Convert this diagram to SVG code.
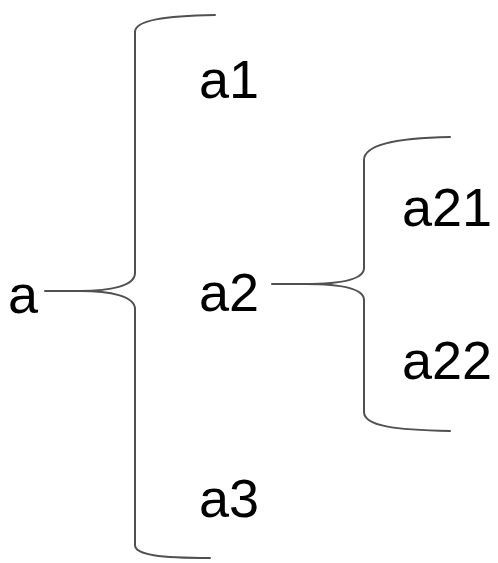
<svg xmlns="http://www.w3.org/2000/svg" width="498" height="563" viewBox="0 0 498 563">
<style>
.br{fill:none;stroke:#505050;stroke-width:2;stroke-linecap:round}
text{font-family:"Liberation Sans",Arial,sans-serif;font-size:54px;fill:#000}
</style>
<rect width="498" height="563" fill="#fff"/>
<g id="connectors">
<path class="br" d="M45,291 H80 C110,291 135,286 135,273 V32 C135,20 165,16 215,15"/>
<path class="br" d="M80,291 C110,291 135,296 135,309 V545 C135,555 160,558 210,558"/>
<path class="br" d="M272,284 H305 C340,284 364,280 364,268 V160 C364,145 395,138 450,137"/>
<path class="br" d="M305,284 C340,284 364,288 364,300 V412 C364,426 395,430 450,431"/>
</g>
<g id="a"><text x="8" y="313">a</text></g>
<g id="a1"><text x="199" y="98">a1</text></g>
<g id="a2"><text x="199" y="311">a2</text></g>
<g id="a3"><text x="199" y="517">a3</text></g>
<g id="a21"><text x="402" y="226">a21</text></g>
<g id="a22"><text x="402" y="379">a22</text></g>
</svg>
